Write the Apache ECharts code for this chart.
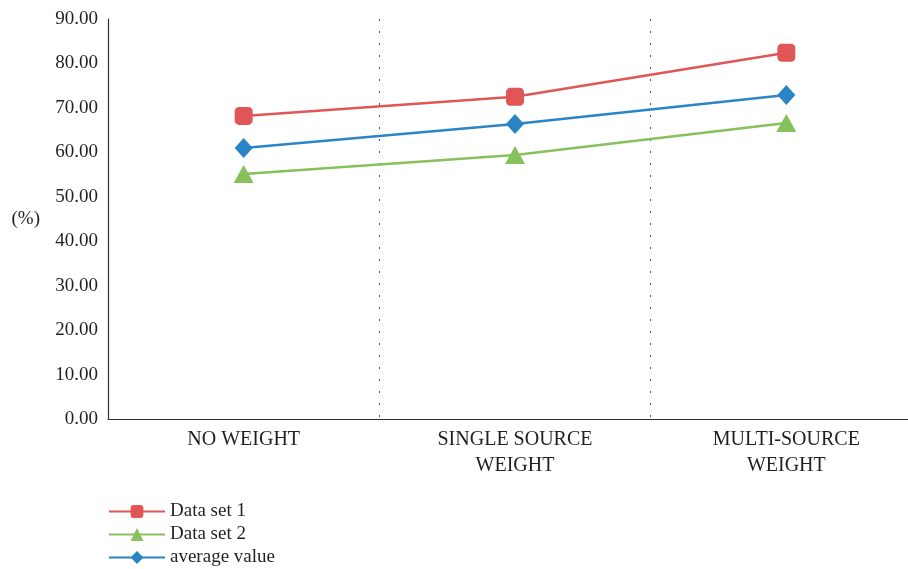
<!DOCTYPE html>
<html><head><meta charset="utf-8">
<script src="https://cdn.jsdelivr.net/npm/echarts@6/dist/echarts.min.js"></script>
<style>html,body{margin:0;padding:0;background:#fff;overflow:hidden}#c{width:922px;height:569px}</style>
</head><body><div id="c"></div>
<script>
const categories = ['NO WEIGHT', 'SINGLE SOURCE\nWEIGHT', 'MULTI-SOURCE\nWEIGHT'];
const dataSet1 = [68.2, 72.5, 82.4];
const dataSet2 = [55.1, 59.4, 66.6];
const averageValue = [61.0, 66.4, 72.9];
const seriesNames = ['Data set 1', 'Data set 2', 'average value'];
const yTicks = {min: 0, max: 90, interval: 10};

const font = 'Liberation Serif';
const chart = echarts.init(document.getElementById('c'));
chart.setOption({
  animation: false,
  grid: {left: 108, right: 0, top: 19, bottom: 150},
  textStyle: {fontFamily: font},
  legend: {
    orient: 'vertical', left: 103, top: 497, height: 80, itemGap: 4, itemWidth: 56, itemHeight: 16,
    textStyle: {fontFamily: font, fontSize: 19, color: '#231f20'},
    data: seriesNames
  },
  xAxis: {
    type: 'category', data: categories, boundaryGap: true,
    axisLine: {lineStyle: {color: '#333', width: 1.2}},
    axisTick: {show: false},
    axisLabel: {fontFamily: font, fontSize: 20, color: '#231f20', lineHeight: 26, margin: 8, interval: 0},
    splitLine: {show: true, lineStyle: {type: [2, 10], color: '#555', width: 1}}
  },
  yAxis: {
    type: 'value', min: yTicks.min, max: yTicks.max, interval: yTicks.interval,
    name: '(%)', nameLocation: 'middle', nameRotate: 0, nameGap: 68,
    nameTextStyle: {fontFamily: font, fontSize: 19, color: '#231f20'},
    axisLine: {show: true, lineStyle: {color: '#333', width: 1.2}},
    axisTick: {show: false},
    splitLine: {show: false},
    axisLabel: {fontFamily: font, fontSize: 19, color: '#231f20', margin: 10,
      formatter: v => v.toFixed(2)}
  },
  series: [
    {name: seriesNames[0], type: 'line', data: dataSet1, symbol: 'roundRect', symbolSize: 18,
      itemStyle: {color: '#e05656'}, lineStyle: {width: 2.5, color: '#e05656'}},
    {name: seriesNames[1], type: 'line', data: dataSet2, symbol: 'triangle', symbolSize: [20, 18],
      itemStyle: {color: '#86c15c'}, lineStyle: {width: 2.5, color: '#86c15c'}},
    {name: seriesNames[2], type: 'line', data: averageValue, symbol: 'diamond', symbolSize: [18, 20],
      itemStyle: {color: '#2a84c6'}, lineStyle: {width: 2.5, color: '#2a84c6'}}
  ]
});
</script></body></html>
